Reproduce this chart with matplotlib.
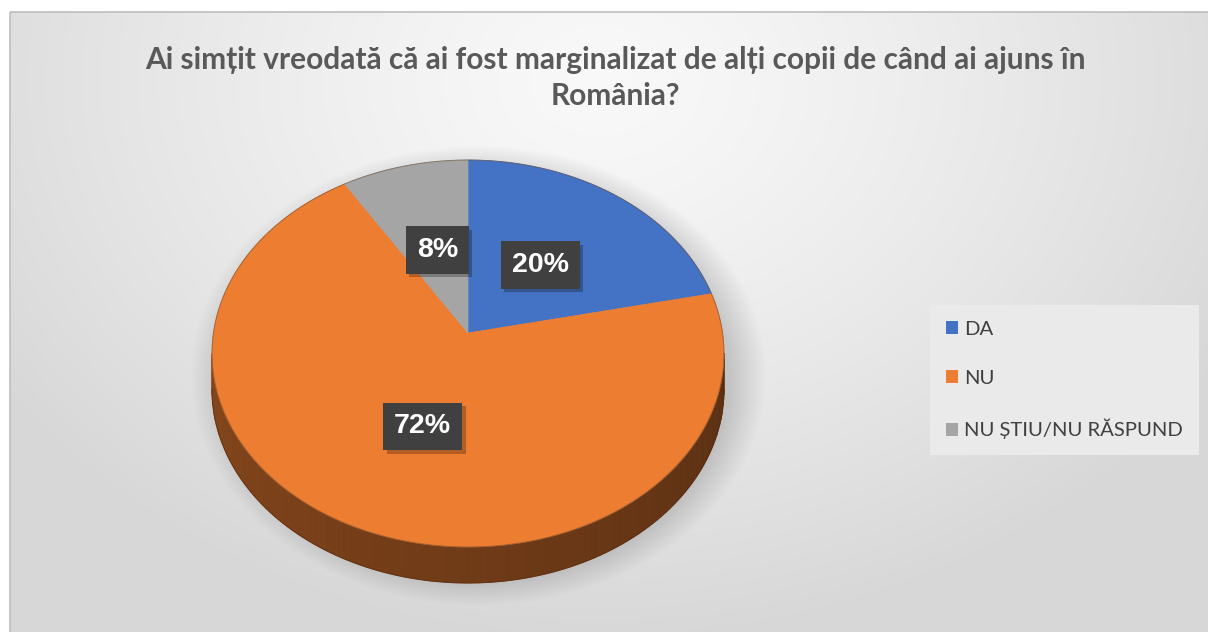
import numpy as np
import matplotlib
matplotlib.use("Agg")
import matplotlib.pyplot as plt
from matplotlib.patches import Polygon, Rectangle, Patch
from matplotlib.colors import to_rgb
import matplotlib.patheffects as pe

# ---- data -------------------------------------------------------------
title = ("Ai simțit vreodată că ai fost marginalizat de alți copii de când ai ajuns în\n"
         "România?")
categories = ["DA", "NU", "NU ȘTIU/NU RĂSPUND"]
shares = [20, 72, 8]
colors = ["#4472C4", "#ED7D31", "#A5A5A5"]

# ---- canvas -----------------------------------------------------------
W, H = 1208, 632
fig = plt.figure(figsize=(W / 100, H / 100), dpi=100)
fig.patch.set_facecolor("white")
ax = fig.add_axes([0, 0, 1, 1])
ax.set_xlim(0, W)
ax.set_ylim(H, 0)
ax.axis("off")

# chart area: soft radial grey gradient with the pie's drop shadow baked in
X0, Y0 = 10, 12
yy, xx = np.mgrid[Y0:H, X0:W].astype(float)
d = np.hypot((xx - 600) / 720, (yy - 80) / 560)
val = 0.975 - 0.13 * np.clip(d, 0, 1) ** 1.3

# pie geometry (top face ellipse, apex slightly above ellipse centre)
cx, cy = 468.0, 353.5
rx, ry = 256.0, 193.5
apex = (468.0, 333.0)
depth = 36.0

r_sh = np.hypot((xx - (cx + 10)) / (rx + 6), (yy - (cy + depth * 0.6)) / (ry + 16))
shadow = 0.16 * np.clip((1.10 - r_sh) / 0.14, 0, 1)
val = val * (1 - shadow)
bg = np.dstack([val, val, val])
ax.imshow(bg, extent=(X0, W, H, Y0), aspect="auto", interpolation="bilinear", zorder=0)
ax.add_patch(Rectangle((X0, Y0), W, H, fill=False, edgecolor="#BDBDBD", lw=1.2, zorder=1))


def ell(t_deg, dy=0.0):
    t = np.radians(t_deg)
    return np.column_stack([cx + rx * np.cos(t), cy - ry * np.sin(t) + dy])


# angles: clockwise from 12 o'clock
total = float(sum(shares))
starts, ends = [], []
a = 90.0
for s in shares:
    starts.append(a)
    a -= 360.0 * s / total
    ends.append(a)

# side wall (only the front half, 180..360 deg, is visible)
for s0, s1, col in zip(starts, ends, colors):
    base = np.array(to_rgb(col))
    for shift in (0.0, -360.0, 360.0):
        lo = max(s1 + shift, -180.0)
        hi = min(s0 + shift, 0.0)
        if hi <= lo:
            continue
        ts = np.linspace(hi, lo, 120)
        for t_a, t_b in zip(ts[:-1], ts[1:]):
            tm = 0.5 * (t_a + t_b)
            # lighter on the left, darker toward the right
            f = 0.56 - 0.18 * (tm + 180.0) / 180.0
            seg = np.linspace(t_a, t_b, 3)
            top = ell(seg)
            bot = ell(seg[::-1], depth)
            ax.add_patch(Polygon(np.vstack([top, bot]), closed=True,
                                 facecolor=base * f, edgecolor=base * f,
                                 lw=0.6, zorder=3))
bottom_arc = ell(np.linspace(-180, 0, 200), depth)
ax.plot(bottom_arc[:, 0], bottom_arc[:, 1], color="#5a2a0c", lw=0.8, alpha=0.6, zorder=4)

# top face wedges
for s0, s1, col in zip(starts, ends, colors):
    arc = ell(np.linspace(s0, s1, 200))
    pts = np.vstack([[apex], arc])
    ax.add_patch(Polygon(pts, closed=True, facecolor=col, edgecolor=col,
                         lw=0.5, zorder=5))
rim = ell(np.linspace(0, 360, 400))
ax.plot(rim[:, 0], rim[:, 1], color="#6b4a30", lw=0.7, alpha=0.55, zorder=6)

# percentage labels in dark boxes with a soft drop shadow
lcx, lcy, frac = 468.0, 340.0, 0.48
for s0, s1, v in zip(starts, ends, shares):
    mid = np.radians(0.5 * (s0 + s1))
    x = lcx + frac * rx * np.cos(mid)
    y = lcy - frac * ry * np.sin(mid)
    t = ax.text(x, y, f"{v}%", ha="center", va="center", fontsize=20.5,
                fontweight="bold", family="Liberation Sans", color="white",
                bbox=dict(boxstyle="square,pad=0.38", facecolor="#404040",
                          edgecolor="none"), zorder=8)
    t.get_bbox_patch().set_path_effects([
        pe.SimplePatchShadow(offset=(2.5, -2.5), shadow_rgbFace="black", alpha=0.25),
        pe.Normal()])

# title
ax.text(615, 78, title, ha="center", va="center", fontsize=21.5,
        fontweight="bold", family=["Lato", "DejaVu Sans"], color="#595959",
        linespacing=1.36, zorder=9)

# legend
handles = [Patch(facecolor=c, edgecolor="none") for c in colors]
leg = ax.legend(handles, categories, loc="upper left",
                bbox_to_anchor=(930 / W, 1 - 305 / H),
                bbox_transform=fig.transFigure, borderaxespad=0.0,
                prop={"family": ["Lato", "DejaVu Sans"], "size": 14.6},
                handlelength=0.62, handleheight=0.62, handletextpad=0.3,
                labelspacing=1.58, borderpad=0.78, frameon=True,
                fancybox=False, framealpha=1.0)
leg.get_frame().set_facecolor("#EAEAEA")
leg.get_frame().set_edgecolor("none")
for t in leg.get_texts():
    t.set_color("#404040")
leg.set_zorder(10)

fig.savefig("out.png", dpi=100)
